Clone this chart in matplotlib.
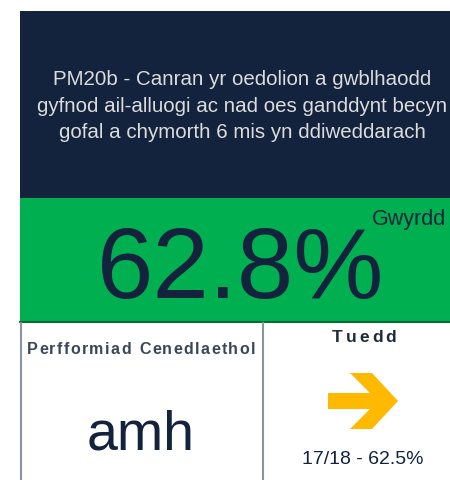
import matplotlib.pyplot as plt
from matplotlib.patches import Rectangle, Polygon

plt.rcParams['font.family'] = ['Liberation Sans', 'DejaVu Sans']

# --- CARD CONTENT ---
title_lines = ["PM20b - Canran yr oedolion a gwblhaodd",
               "gyfnod ail-alluogi ac nad oes ganddynt becyn",
               "gofal a chymorth 6 mis yn ddiweddarach"]
current_value = 62.8
rating = "Gwyrdd"
national_label = "Perfformiad Cenedlaethol"
national_value = "amh"
trend_label = "Tuedd"
prev_period = "17/18"
prev_value = 62.5

# --- COLOURS ---
NAVY = '#13223d'
GREEN = '#00b050'
YELLOW = '#ffb900'
GREY = '#8a949f'


def spaced_text(ax, x, y, s, spacing, **kw):
    """Draw text centred on x with extra letter spacing (pixels)."""
    r = ax.figure.canvas.get_renderer()
    widths = []
    for ch in s:
        t = ax.text(0, 0, ch if ch != ' ' else 'n', **kw)
        w = t.get_window_extent(r).width
        widths.append(w * (0.55 if ch == ' ' else 1.0))
        t.remove()
    total = sum(widths) + spacing * (len(s) - 1)
    pos = x - total / 2
    for ch, w in zip(s, widths):
        ax.text(pos, y, ch, ha='left', va='center', **kw)
        pos += w + spacing


fig = plt.figure(figsize=(4.5, 4.8), dpi=100)
ax = fig.add_axes([0, 0, 1, 1])
ax.set_xlim(0, 450)
ax.set_ylim(480, 0)
ax.axis('off')

# header block
ax.add_patch(Rectangle((20, 11), 440, 187, color=NAVY, lw=0))
ax.text(242, 106, "\n".join(title_lines), color='#dcdcdc', fontsize=14.8,
        ha='center', va='center', linespacing=1.47, clip_on=True)

# value block
ax.add_patch(Rectangle((20, 198), 440, 124, color=GREEN, lw=0))
ax.plot([20, 450], [322, 322], color='#0b6b35', lw=1.5)
ax.text(241, 272, f"{current_value}%", color=NAVY, fontsize=73,
        ha='center', va='center')
ax.text(446, 219, rating, color=NAVY, fontsize=15.5, ha='right', va='center')

# bottom panels
ax.plot([21, 21], [323, 480], color=GREY, lw=1.5)
ax.plot([263, 263], [323, 480], color=GREY, lw=1.5)
spaced_text(ax, 141, 350, national_label, 1.4, color='#3b4658', fontsize=11.5,
            fontweight='bold')
ax.text(141, 435, national_value, color=NAVY, fontsize=40,
        ha='center', va='center')

spaced_text(ax, 364, 338, trend_label, 3.0, color='#1f2a38', fontsize=12.5,
            fontweight='bold')

# trend arrow (sideways = no significant change)
cx, cy, s = 363, 401, 1.0
shape = [(-35, -8), (7, -8), (-13, -28), (9, -28), (35, 0), (9, 28),
         (-13, 28), (7, 8), (-35, 8)]
ax.add_patch(Polygon([(cx + s * x, cy + s * y) for x, y in shape],
                     closed=True, color=YELLOW, lw=0))

ax.text(363, 460, f"{prev_period} - {prev_value}%", color=NAVY, fontsize=14,
        ha='center', va='center')

fig.savefig('out.png', dpi=100)
